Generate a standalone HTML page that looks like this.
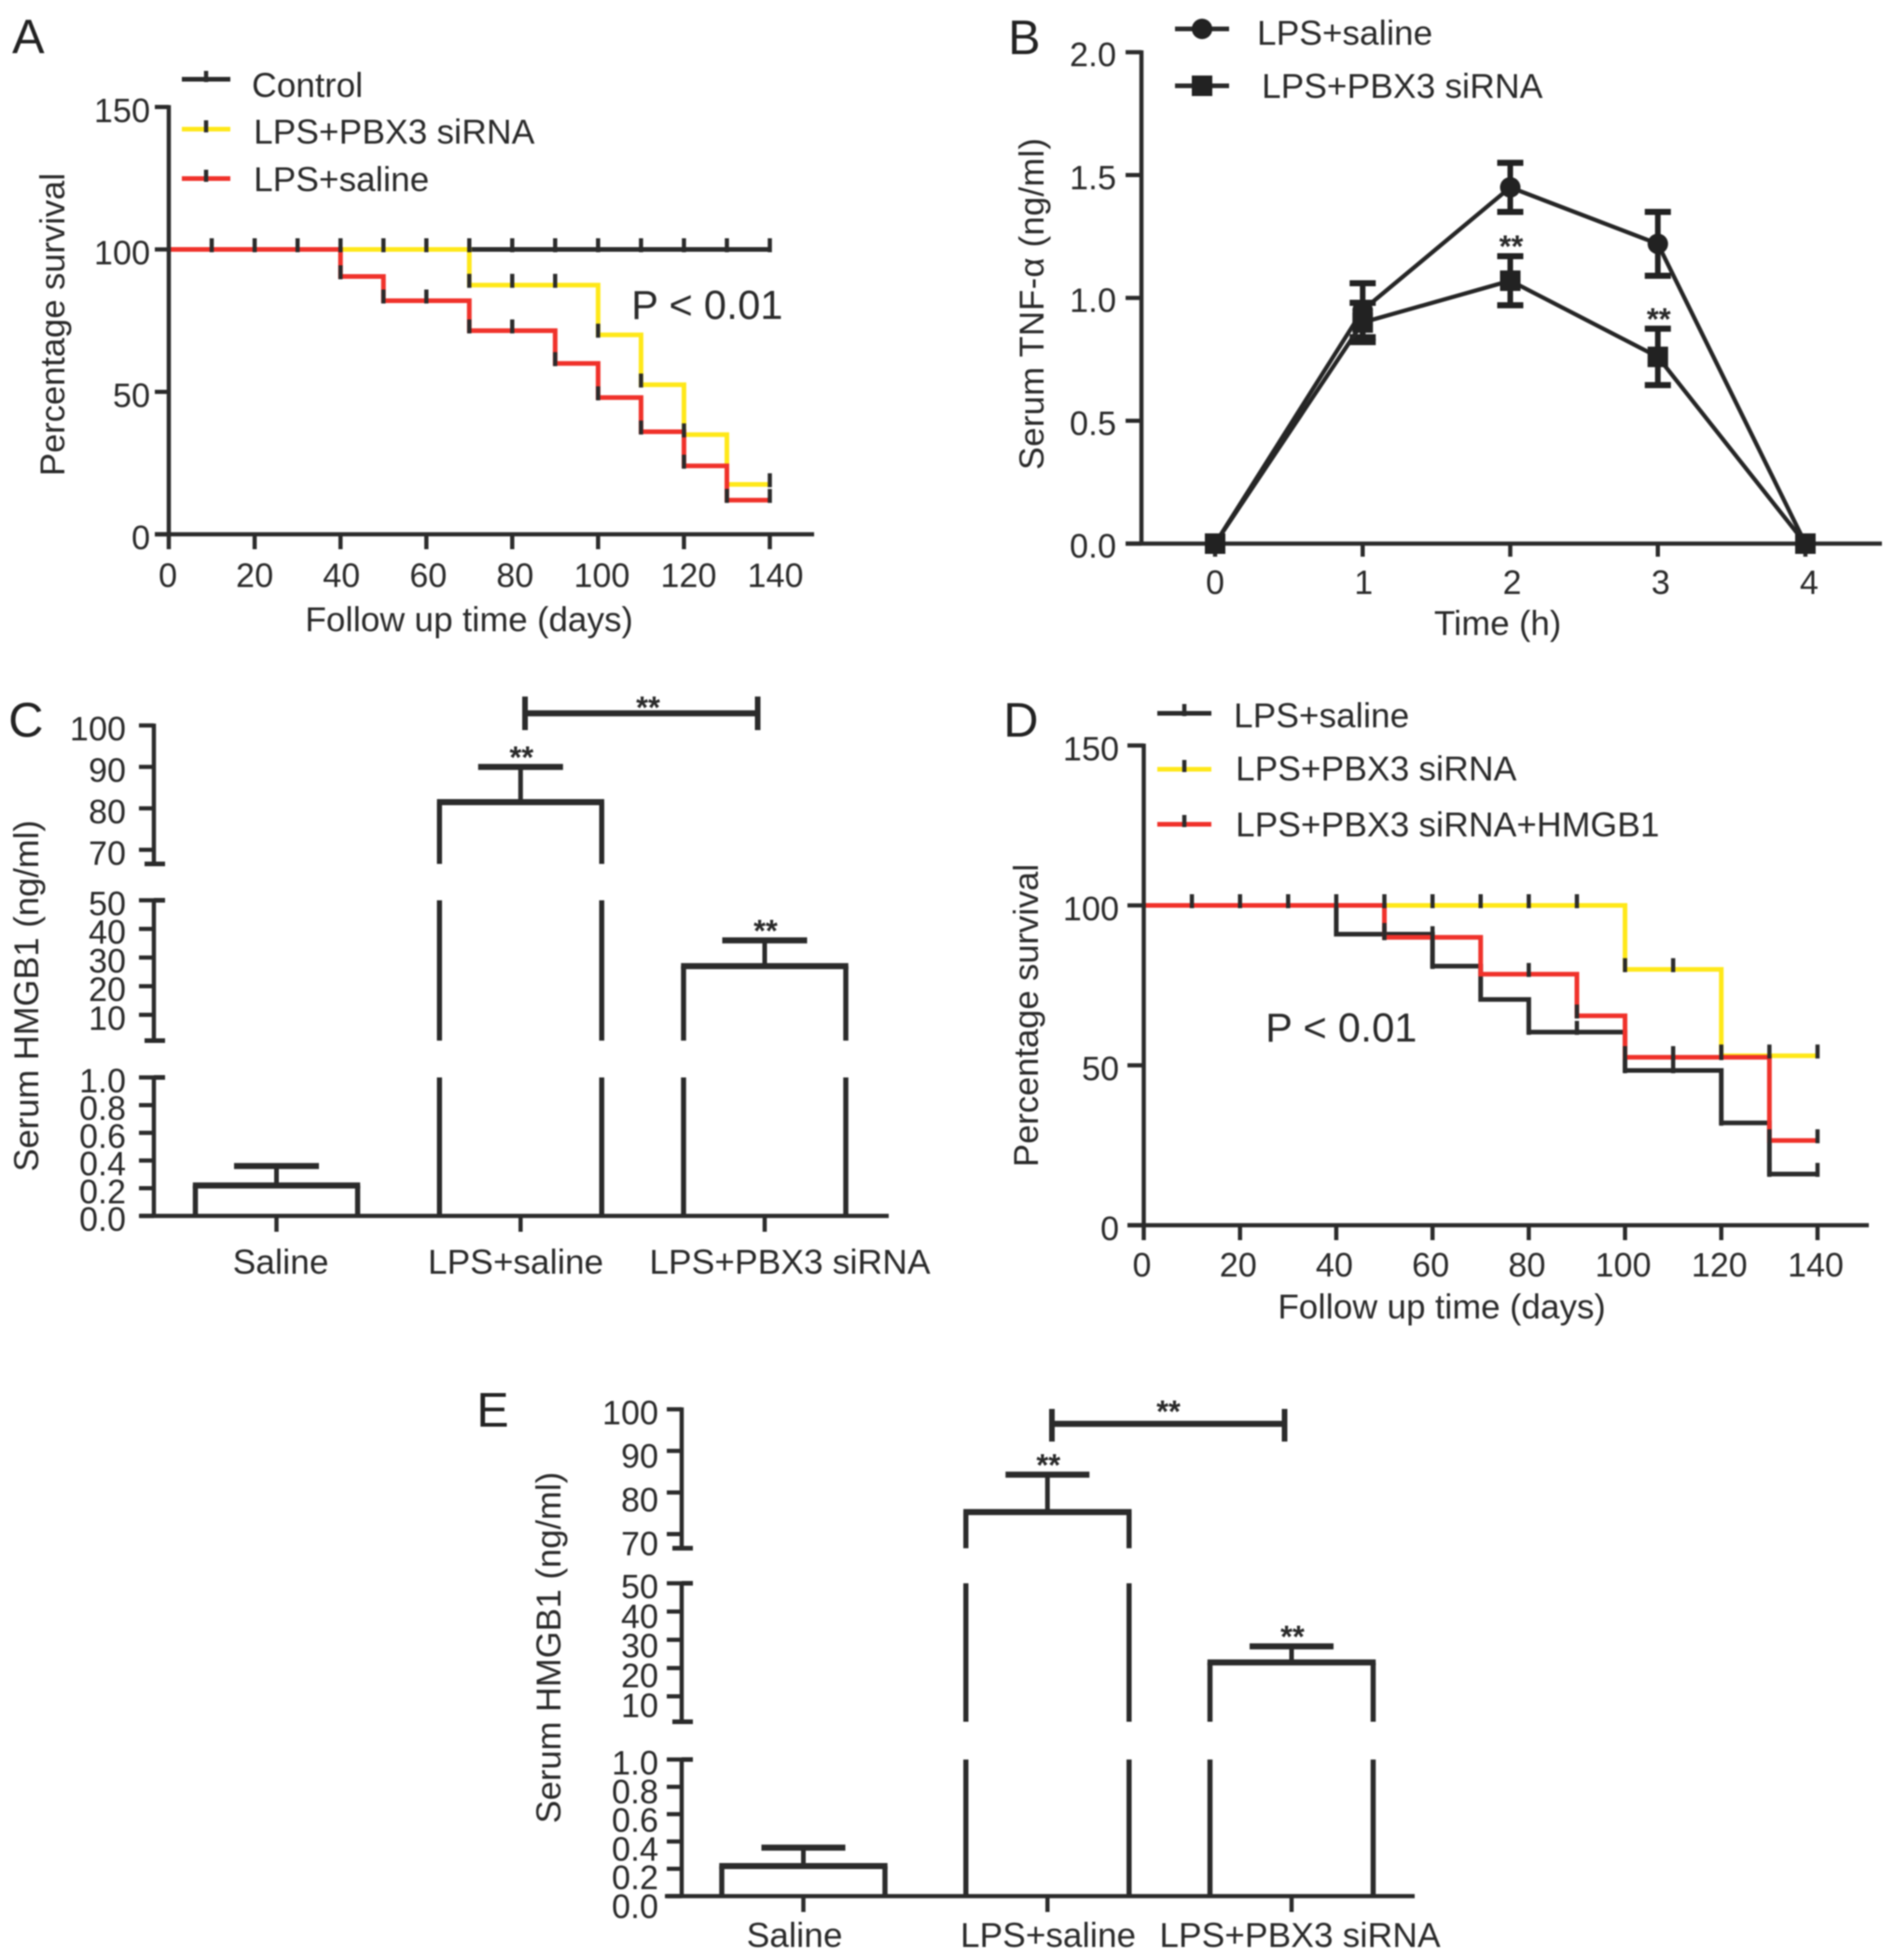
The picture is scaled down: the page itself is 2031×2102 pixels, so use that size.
<!DOCTYPE html>
<html lang="en">
<head>
<meta charset="utf-8">
<title>Survival and serum cytokine panels</title>
<style>
html,body{margin:0;padding:0;background:#fff;}
#figure{display:block;filter:blur(0.7px);}
text{font-family:"Liberation Sans",Arial,sans-serif;font-size:37px;fill:#2a2a2a;}
.ticklab{font-size:36px;}
.panel-letter{font-size:52px;fill:#222;}
.pval{font-size:43.5px;}
.stars{font-size:33px;font-weight:bold;text-anchor:middle;}
.leg{stroke-width:5;fill:none;}
.dark{stroke:#2b2b2b;}
.yellow{stroke:#ffe81a;}
.red{stroke:#f0322b;}
.tickmark{stroke:#2b2b2b;stroke-width:4.5;}
</style>
</head>
<body>
<svg id="figure" xmlns="http://www.w3.org/2000/svg" width="2031" height="2102" viewBox="0 0 2031 2102">
  <rect x="0" y="0" width="2031" height="2102" fill="#ffffff"/>

  <!-- Panel A -->
  <g id="panel-a">
    <text class="panel-letter" x="13" y="57">A</text>
    <text transform="translate(69,348) rotate(-90)" text-anchor="middle">Percentage survival</text>
    <text x="503" y="677" text-anchor="middle">Follow up time (days)</text>
    <text class="pval" x="677" y="342">P &lt; 0.01</text>
    <g>
      <line class="leg dark" x1="195" y1="85" x2="247" y2="85"/>
      <line class="tickmark" x1="221" y1="76" x2="221" y2="88"/>
      <text x="270" y="104">Control</text>
      <line class="leg yellow" x1="195" y1="138.5" x2="247" y2="138.5"/>
      <line class="tickmark" x1="221" y1="129" x2="221" y2="142"/>
      <text x="272" y="154">LPS+PBX3 siRNA</text>
      <line class="leg red" x1="195" y1="191.5" x2="247" y2="191.5"/>
      <line class="tickmark" x1="221" y1="182" x2="221" y2="195"/>
      <text x="272" y="205">LPS+saline</text>
    </g>
  </g>

  <!-- Panel B -->
  <g id="panel-b">
    <text class="panel-letter" x="1081" y="58">B</text>
    <text transform="translate(1119,326) rotate(-90)" text-anchor="middle" textLength="356">Serum TNF-α (ng/ml)</text>
    <text x="1606" y="681" text-anchor="middle">Time (h)</text>
    <g>
      <line class="leg dark" x1="1260" y1="31" x2="1318" y2="31"/>
      <circle cx="1289" cy="31" r="11" fill="#222"/>
      <text x="1348" y="48">LPS+saline</text>
      <line class="leg dark" x1="1260" y1="92" x2="1318" y2="92"/>
      <rect x="1278" y="81" width="22" height="22" fill="#222"/>
      <text x="1353" y="105">LPS+PBX3 siRNA</text>
    </g>
  </g>

  <!-- Panel C -->
  <g id="panel-c">
    <text class="panel-letter" x="9" y="790">C</text>
    <text transform="translate(41,1068) rotate(-90)" text-anchor="middle" textLength="377">Serum HMGB1 (ng/ml)</text>
    <text x="301" y="1366" text-anchor="middle">Saline</text>
    <text x="553" y="1366" text-anchor="middle">LPS+saline</text>
    <text x="847" y="1366" text-anchor="middle">LPS+PBX3 siRNA</text>
    <g>
      <line class="dark" stroke-width="6.5" x1="563" y1="765" x2="812.5" y2="765"/>
      <line class="dark" stroke-width="6" x1="563" y1="747" x2="563" y2="783"/>
      <line class="dark" stroke-width="6" x1="812.5" y1="747" x2="812.5" y2="783"/>
      <text class="stars" x="695" y="770">**</text>
    </g>
  </g>

  <!-- Panel D -->
  <g id="panel-d">
    <text class="panel-letter" x="1076" y="790">D</text>
    <text transform="translate(1113,1089) rotate(-90)" text-anchor="middle">Percentage survival</text>
    <text x="1546" y="1414" text-anchor="middle">Follow up time (days)</text>
    <text class="pval" x="1357" y="1117">P &lt; 0.01</text>
    <g>
      <line class="leg dark" x1="1241" y1="765" x2="1299" y2="765"/>
      <line class="tickmark" x1="1270" y1="755" x2="1270" y2="768"/>
      <text x="1323" y="780">LPS+saline</text>
      <line class="leg yellow" x1="1241" y1="825" x2="1299" y2="825"/>
      <line class="tickmark" x1="1270" y1="815" x2="1270" y2="828"/>
      <text x="1325" y="837">LPS+PBX3 siRNA</text>
      <line class="leg red" x1="1241" y1="884" x2="1299" y2="884"/>
      <line class="tickmark" x1="1270" y1="874" x2="1270" y2="887"/>
      <text x="1325" y="897">LPS+PBX3 siRNA+HMGB1</text>
    </g>
  </g>

  <!-- Panel E -->
  <g id="panel-e">
    <text class="panel-letter" x="511" y="1530">E</text>
    <text transform="translate(601,1767) rotate(-90)" text-anchor="middle" textLength="377">Serum HMGB1 (ng/ml)</text>
    <text x="852" y="2088" text-anchor="middle">Saline</text>
    <text x="1124" y="2088" text-anchor="middle">LPS+saline</text>
    <text x="1394" y="2088" text-anchor="middle">LPS+PBX3 siRNA</text>
    <g>
      <line class="dark" stroke-width="6.5" x1="1128" y1="1527" x2="1377.5" y2="1527"/>
      <line class="dark" stroke-width="6" x1="1128" y1="1511" x2="1128" y2="1546"/>
      <line class="dark" stroke-width="6" x1="1377.5" y1="1511" x2="1377.5" y2="1546"/>
      <text class="stars" x="1253" y="1525">**</text>
    </g>
  </g>
</svg>

<script>
// ---------- Panel A data ----------
const aXTicks = [0, 20, 40, 60, 80, 100, 120, 140];
const aYTicks = [0, 50, 100, 150];
const aControlTimes = [0, 140];
const aControlSurvival = [100, 100];
const aControlCensor = [10, 20, 30, 40, 50, 60, 70, 80, 90, 100, 110, 120, 130, 140];
const aPbxTimes = [0, 70, 100, 110, 120, 130, 140];
const aPbxSurvival = [100, 87.5, 70, 52.5, 35, 17.5, 17.5];
const aPbxCensor = [70, 80, 90, 100, 110, 120, 140];
const aSalineTimes = [0, 40, 50, 70, 90, 100, 110, 120, 130, 140];
const aSalineSurvival = [100, 90.5, 82, 71.5, 60, 48, 36, 24, 12, 12];
const aSalineCensor = [40, 50, 60, 70, 80, 90, 100, 110, 120, 130, 140];

// ---------- Panel B data ----------
const bTimes = [0, 1, 2, 3, 4];
const bYTicks = ['0.0', '0.5', '1.0', '1.5', '2.0'];
const bSalineMean = [0, 0.95, 1.45, 1.22, 0];
const bSalineErr = [0, 0.11, 0.10, 0.13, 0];
const bPbxMean = [0, 0.90, 1.07, 0.76, 0];
const bPbxErr = [0, 0.08, 0.10, 0.115, 0];
const bPbxStarFlags = [0, 0, 1, 1, 0];

// ---------- Panel C data ----------
const cMeans = [0.22, 81.5, 27];
const cUpper = [0.36, 90, 36];
const cStarFlags = [0, 1, 1];
const cBreaks = [[0, 1], [1, 50], [66.6, 100]];
const cTicksLow = ['0.0', '0.2', '0.4', '0.6', '0.8', '1.0'];
const cTicksMid = ['10', '20', '30', '40', '50'];
const cTicksHigh = ['70', '80', '90', '100'];

// ---------- Panel D data ----------
const dXTicks = [0, 20, 40, 60, 80, 100, 120, 140];
const dYTicks = [0, 50, 100, 150];
const dSalineTimes = [0, 40, 60, 70, 80, 100, 120, 130, 140];
const dSalineSurvival = [100, 91, 81, 70.6, 60.4, 48.4, 32, 16, 16];
const dSalineCensor = [50, 60, 80, 90, 100, 110, 120, 130, 140];
const dPbxTimes = [0, 100, 120, 140];
const dPbxSurvival = [100, 80, 53, 53];
const dPbxCensor = [50, 60, 70, 80, 90, 100, 110, 120, 130, 140];
const dHmgbTimes = [0, 50, 70, 90, 100, 130, 140];
const dHmgbSurvival = [100, 90, 78.5, 65.5, 52.5, 26.5, 26.5];
const dHmgbCensor = [10, 20, 30, 40, 50, 60, 80, 90, 100, 110, 120, 130, 140];

// ---------- Panel E data ----------
const eMeans = [0.22, 75.3, 22];
const eUpper = [0.355, 84.3, 27.7];
const eStarFlags = [0, 1, 1];
const eBreaks = [[0, 1], [1, 50], [66.6, 100]];
const eTicksLow = ['0.0', '0.2', '0.4', '0.6', '0.8', '1.0'];
const eTicksMid = ['10', '20', '30', '40', '50'];
const eTicksHigh = ['70', '80', '90', '100'];

// ---------- Axis functions ----------
const SVGNS = 'http://www.w3.org/2000/svg';
const DARK = '#2b2b2b';
const YELLOW = '#ffe81a';
const RED = '#f0322b';

function linearScale(d0, d1, r0, r1) {
  return function (v) { return r0 + (v - d0) * (r1 - r0) / (d1 - d0); };
}
function brokenScale(breaks, ranges) {
  const segs = breaks.map(function (b, i) { return linearScale(b[0], b[1], ranges[i][0], ranges[i][1]); });
  const fn = function (v) {
    for (let i = 0; i < breaks.length; i++) {
      if (v <= breaks[i][1]) return segs[i](Math.max(v, breaks[i][0]));
    }
    return segs[segs.length - 1](breaks[breaks.length - 1][1]);
  };
  fn.seg = segs;
  fn.breaks = breaks;
  return fn;
}

const xA = linearScale(0, 140, 181, 825.5);
const yA = linearScale(0, 100, 573, 267.5);
const xB = linearScale(0, 4, 1303, 1936);
const yB = linearScale(0, 2, 583, 56);
const xC = linearScale(0, 2, 296.5, 820);
const yC = brokenScale(cBreaks, [[1304, 1155.5], [1116, 965.5], [926.5, 778]]);
const xD = linearScale(0, 140, 1226.5, 1949);
const yD = linearScale(0, 100, 1314, 971);
const xE = linearScale(0, 2, 861.5, 1385);
const yE = brokenScale(eBreaks, [[2033.5, 1887], [1846.5, 1698], [1660.4, 1511.4]]);

// ---------- Drawing helpers ----------
function drawLine(parent, x1, y1, x2, y2, width, color, name) {
  const n = document.createElementNS(SVGNS, 'line');
  n.setAttribute('x1', x1);
  n.setAttribute('y1', y1);
  n.setAttribute('x2', x2);
  n.setAttribute('y2', y2);
  n.setAttribute('stroke', color);
  n.setAttribute('stroke-width', width);
  
  
  parent.appendChild(n);
  return n;
}
function drawText(parent, x, y, str, anchor, name) {
  const n = document.createElementNS(SVGNS, 'text');
  n.setAttribute('x', x);
  n.setAttribute('y', y);
  n.setAttribute('text-anchor', anchor);
  n.setAttribute('class', 'ticklab');
  
  
  n.textContent = str;
  parent.appendChild(n);
  return n;
}
function drawStars(parent, x, y, name) {
  const n = document.createElementNS(SVGNS, 'text');
  n.setAttribute('x', x);
  n.setAttribute('y', y);
  n.setAttribute('class', 'stars');
  
  
  n.textContent = '**';
  parent.appendChild(n);
}
function stepPath(times, values, x, y) {
  let d = 'M' + x(times[0]) + ' ' + y(values[0]);
  for (let i = 1; i < times.length; i++) {
    d += ' L' + x(times[i]) + ' ' + y(values[i - 1]);
    d += ' L' + x(times[i]) + ' ' + y(values[i]);
  }
  return d;
}
function survivalAt(t, times, values) {
  let s = values[0];
  for (let i = 0; i < times.length; i++) {
    if (t >= times[i]) s = values[i];
  }
  return s;
}
function drawSurvivalSeries(parent, times, values, x, y, color, name) {
  const p = document.createElementNS(SVGNS, 'path');
  p.setAttribute('d', stepPath(times, values, x, y));
  p.setAttribute('fill', 'none');
  p.setAttribute('stroke', color);
  p.setAttribute('stroke-width', 5);
  
  
  parent.appendChild(p);
}
function drawCensor(parent, censor, times, values, x, y, name) {
  censor.forEach(function (t) {
    const yy = y(survivalAt(t, times, values));
    drawLine(parent, x(t), yy - 12, x(t), yy + 3, 4.5, DARK, name);
  });
}
function drawSurvivalAxes(parent, xTicks, yTicks, x, y, leftEnd, rightEnd, labelDx, xLabelY, yLabelRight) {
  const y0 = y(0);
  const x0 = x(0);
  drawLine(parent, x0, y(yTicks[yTicks.length - 1]) - 2, x0, y0 + 2, 4.5, DARK, 'y-axis-line');
  drawLine(parent, leftEnd, y0, rightEnd, y0, 4.5, DARK, 'x-axis-line');
  xTicks.forEach(function (t) {
    drawLine(parent, x(t), y0, x(t), y0 + 16, 4.5, DARK, 'x-tick');
    drawText(parent, x(t) + labelDx(t), xLabelY, String(t), 'middle', 'x-tick-label');
  });
  yTicks.forEach(function (v) {
    drawLine(parent, leftEnd, y(v), x0, y(v), 4.5, DARK, 'y-tick');
    drawText(parent, yLabelRight, y(v) + 16, String(v), 'end', 'y-tick-label');
  });
}
function drawBrokenAxis(parent, y, axisX, tickSets, labelRight, labelStretch) {
  y.breaks.forEach(function (b, i) {
    drawLine(parent, axisX, y.seg[i](b[1]) - 2, axisX, y.seg[i](b[0]) + 2, 4.5, DARK, 'y-axis-segment');
    if (i > 0) {
      drawLine(parent, axisX - 10, y.seg[i](b[0]), axisX + 12, y.seg[i](b[0]), 5, DARK, 'y-axis-segment-end');
    }
    if (i < y.breaks.length - 1) {
      drawLine(parent, axisX, y.seg[i](b[1]), axisX + 12, y.seg[i](b[1]), 5, DARK, 'y-axis-segment-end');
    }
  });
  tickSets.forEach(function (labels, i) {
    const segTop = y.seg[i](y.breaks[i][1]);
    labels.forEach(function (lab) {
      const yy = y.seg[i](Number(lab));
      drawLine(parent, axisX - 16, yy, axisX, yy, 4.5, DARK, 'y-tick');
      drawText(parent, labelRight, yy + 16 + (yy - segTop) * labelStretch, lab, 'end', 'y-tick-label');
    });
  });
}
function drawBrokenBars(parent, means, upper, flags, x, y, halfW, capHalf, axisBaseY, axisLeft, axisRight) {
  drawLine(parent, axisLeft, axisBaseY, axisRight, axisBaseY, 4.5, DARK, 'x-axis-line');
  means.forEach(function (m, i) {
    const cx = x(i);
    drawLine(parent, cx, axisBaseY, cx, axisBaseY + 17, 4.5, DARK, 'x-tick');
    y.breaks.forEach(function (b, s) {
      if (m >= b[0]) {
        const top = y.seg[s](Math.min(m, b[1]));
        const bottom = y.seg[s](b[0]);
        drawLine(parent, cx - halfW, bottom, cx - halfW, top, 5.5, DARK, 'bar-left-side');
        drawLine(parent, cx + halfW, bottom, cx + halfW, top, 5.5, DARK, 'bar-right-side');
      }
    });
    const ym = y(m);
    const yu = y(upper[i]);
    drawLine(parent, cx - halfW - 2.7, ym, cx + halfW + 2.7, ym, 6.5, DARK, 'bar-top');
    drawLine(parent, cx, ym, cx, yu, 5, DARK, 'error-bar-stem');
    drawLine(parent, cx - capHalf, yu, cx + capHalf, yu, 6.5, DARK, 'error-bar-cap');
    if (flags[i]) {
      drawStars(parent, cx + 1, yu + 1, 'bar-significance');
    }
  });
}

// ---------- Panel A ----------
(function () {
  const g = document.getElementById('panel-a');
  drawSurvivalSeries(g, aControlTimes, aControlSurvival, xA, yA, DARK, 'series-control');
  drawSurvivalSeries(g, aPbxTimes, aPbxSurvival, xA, yA, YELLOW, 'series-lps-pbx3-sirna');
  drawSurvivalSeries(g, aSalineTimes, aSalineSurvival, xA, yA, RED, 'series-lps-saline');
  drawCensor(g, aControlCensor, aControlTimes, aControlSurvival, xA, yA, 'censor-mark-control');
  drawCensor(g, aPbxCensor, aPbxTimes, aPbxSurvival, xA, yA, 'censor-mark-pbx3');
  drawCensor(g, aSalineCensor, aSalineTimes, aSalineSurvival, xA, yA, 'censor-mark-saline');
  drawSurvivalAxes(g, aXTicks, aYTicks, xA, yA, 166, 873, function (t) { return t * 0.05 - 1; }, 629.5, 161);
})();

// ---------- Panel B ----------
(function () {
  const g = document.getElementById('panel-b');
  const axisX = 1224;
  const y0 = yB(0);
  drawLine(g, axisX, yB(2) - 2, axisX, y0 + 2, 4.5, DARK, 'y-axis-line');
  drawLine(g, 1207, y0, 2018, y0, 4.5, DARK, 'x-axis-line');
  bYTicks.forEach(function (lab) {
    drawLine(g, 1207, yB(Number(lab)), axisX, yB(Number(lab)), 4.5, DARK, 'y-tick');
    drawText(g, 1197, yB(Number(lab)) + 15, lab, 'end', 'y-tick-label');
  });
  bTimes.forEach(function (t) {
    drawLine(g, xB(t), y0, xB(t), y0 + 14, 4.5, DARK, 'x-tick');
    drawText(g, xB(t) + t, 637, String(t), 'middle', 'x-tick-label');
  });
  function series(means, errs, name) {
    const p = document.createElementNS(SVGNS, 'polyline');
    p.setAttribute('points', bTimes.map(function (t, i) { return xB(t) + ',' + yB(means[i]); }).join(' '));
    p.setAttribute('fill', 'none');
    p.setAttribute('stroke', '#262626');
    p.setAttribute('stroke-width', 4.5);
    
    
    g.appendChild(p);
    bTimes.forEach(function (t, i) {
      if (errs[i] > 0) {
        drawLine(g, xB(t), yB(means[i] - errs[i]), xB(t), yB(means[i] + errs[i]), 6, '#222', 'error-bar-stem');
        drawLine(g, xB(t) - 14, yB(means[i] + errs[i]), xB(t) + 14, yB(means[i] + errs[i]), 6.5, '#222', 'error-bar-cap');
        drawLine(g, xB(t) - 14, yB(means[i] - errs[i]), xB(t) + 14, yB(means[i] - errs[i]), 6.5, '#222', 'error-bar-cap');
      }
    });
  }
  series(bSalineMean, bSalineErr, 'series-lps-saline');
  bTimes.forEach(function (t, i) {
    const c = document.createElementNS(SVGNS, 'circle');
    c.setAttribute('cx', xB(t));
    c.setAttribute('cy', yB(bSalineMean[i]));
    c.setAttribute('r', 11);
    c.setAttribute('fill', '#222');
    
    
    g.appendChild(c);
  });
  series(bPbxMean, bPbxErr, 'series-lps-pbx3-sirna');
  bTimes.forEach(function (t, i) {
    const r = document.createElementNS(SVGNS, 'rect');
    r.setAttribute('x', xB(t) - 11);
    r.setAttribute('y', yB(bPbxMean[i]) - 11);
    r.setAttribute('width', 22);
    r.setAttribute('height', 22);
    r.setAttribute('fill', '#222');
    
    
    g.appendChild(r);
    if (bPbxStarFlags[i]) {
      drawStars(g, xB(t) + 1, yB(bPbxMean[i] + bPbxErr[i]) + 1, 'point-significance');
    }
  });
})();

// ---------- Panel C ----------
(function () {
  const g = document.getElementById('panel-c');
  drawBrokenAxis(g, yC, 165, [cTicksLow, cTicksMid, cTicksHigh], 135, 0);
  drawBrokenBars(g, cMeans, cUpper, cStarFlags, xC, yC, 87, 45.5, 1304, 150, 953);
})();

// ---------- Panel D ----------
(function () {
  const g = document.getElementById('panel-d');
  drawSurvivalSeries(g, dSalineTimes, dSalineSurvival, xD, yD, DARK, 'series-lps-saline');
  drawSurvivalSeries(g, dPbxTimes, dPbxSurvival, xD, yD, YELLOW, 'series-lps-pbx3-sirna');
  drawSurvivalSeries(g, dHmgbTimes, dHmgbSurvival, xD, yD, RED, 'series-lps-pbx3-sirna-hmgb1');
  drawCensor(g, dSalineCensor, dSalineTimes, dSalineSurvival, xD, yD, 'censor-mark-saline');
  drawCensor(g, dPbxCensor, dPbxTimes, dPbxSurvival, xD, yD, 'censor-mark-pbx3');
  drawCensor(g, dHmgbCensor, dHmgbTimes, dHmgbSurvival, xD, yD, 'censor-mark-hmgb1');
  drawSurvivalAxes(g, dXTicks, dYTicks, xD, yD, 1209, 2004, function () { return -2; }, 1369, 1200);
})();

// ---------- Panel E ----------
(function () {
  const g = document.getElementById('panel-e');
  drawBrokenAxis(g, yE, 731, [eTicksLow, eTicksMid, eTicksHigh], 706, 0.05);
  drawBrokenBars(g, eMeans, eUpper, eStarFlags, xE, yE, 87.5, 45, 2033.5, 713, 1517);
})();
</script>
</body>
</html>
